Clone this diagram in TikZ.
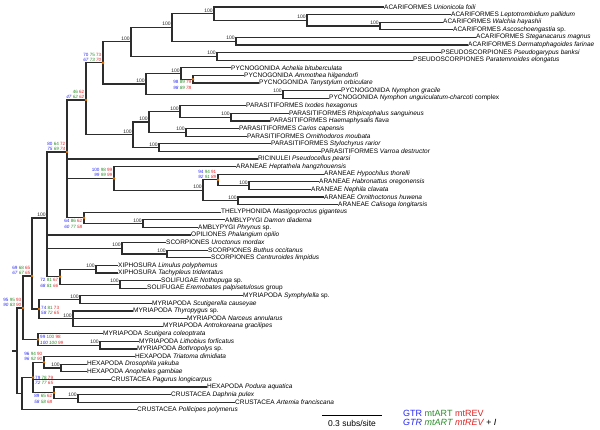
\documentclass[tikz,border=0pt]{standalone}
\usepackage{fontspec}
\setmainfont{Liberation Sans}
\definecolor{gtr}{RGB}{40,40,245}
\definecolor{art}{RGB}{40,140,40}
\definecolor{rev}{RGB}{225,35,35}
\definecolor{nodeor}{RGB}{225,110,0}
\definecolor{brc}{RGB}{45,45,45}
\newcommand{\svl}[6]{{\color{gtr}#1} {\color{art}#2} {\color{rev}#3}\\{\itshape{\color{gtr}#4} {\color{art}#5} {\color{rev}#6}}}
\tikzset{
  br/.style={draw=brc, line width=1.2pt, line cap=rect},
  leaf/.style={anchor=west, inner sep=1pt, font=\fontsize{6.5}{7}\selectfont},
  bs/.style={anchor=south east, inner sep=0pt, font=\fontsize{5}{5}\selectfont, text=black!85},
  sv/.style={inner sep=0pt, font=\fontsize{4.6}{5.2}\selectfont},
  dotn/.style={circle, fill=nodeor, inner sep=0pt, minimum size=2.8pt}
}
\begin{document}
\begin{tikzpicture}[x=1pt,y=-1pt]
\useasboundingbox (0,0) rectangle (600,430);
% internal nodes
\coordinate (root0) at (13,351);
\coordinate (root) at (17,351);
\coordinate (A) at (23,308);
\coordinate (KK) at (32,276);
\coordinate (HH) at (47,218);
\coordinate (G) at (67,152);
\coordinate (W) at (86,100);
\coordinate (R) at (103,62.9);
\coordinate (P1) at (131,41.9);
\coordinate (Q1) at (172,27.4);
\coordinate (Q2) at (214,13.7);
\coordinate (Q3) at (307,20.3);
\coordinate (Q4) at (380,26);
\coordinate (Q5) at (236,41.2);
\coordinate (Q6) at (217,56.4);
\coordinate (S) at (146,84);
\coordinate (T) at (181,73.5);
\coordinate (V) at (193,79.2);
\coordinate (U) at (283,94.4);
\coordinate (X) at (133,134.8);
\coordinate (Y) at (149,122);
\coordinate (Y1) at (180,111.5);
\coordinate (Y1a) at (231,117.2);
\coordinate (Y2) at (186,132.4);
\coordinate (Z) at (159,147.6);
\coordinate (AA) at (114,178.5);
\coordinate (CC) at (203,190.4);
\coordinate (DD) at (218,179.9);
\coordinate (FF) at (249,185.6);
\coordinate (EE) at (238,200.8);
\coordinate (BB) at (84,217.9);
\coordinate (GG) at (143,223.6);
\coordinate (JJ) at (122,248.3);
\coordinate (SS) at (167,254);
\coordinate (II) at (60,276.8);
\coordinate (XX) at (96,269.2);
\coordinate (SO) at (120,284.4);
\coordinate (F) at (39,309.1);
\coordinate (SY) at (80,299.6);
\coordinate (DP) at (73,318.6);
\coordinate (C) at (38,339.5);
\coordinate (D) at (100,345.2);
\coordinate (P) at (22,393.6);
\coordinate (LL) at (33,377.5);
\coordinate (MM) at (44,362.3);
\coordinate (PP) at (61,368);
\coordinate (NN) at (54,392.7);
\coordinate (OO) at (78,398.4);
% leaves
\node[leaf] (l1) at (383,7) {ACARIFORMES \textit{Unionicola foili}};
\node[leaf] (l2) at (450,14.6) {ACARIFORMES \textit{Leptotrombidium pallidum}};
\node[leaf] (l3) at (442,22.2) {ACARIFORMES \textit{Walchia hayashii}};
\node[leaf] (l4) at (452,29.8) {ACARIFORMES \textit{Ascoschoengastia} sp.};
\node[leaf] (l5) at (475,37.4) {ACARIFORMES \textit{Steganacarus magnus}};
\node[leaf] (l6) at (467,45) {ACARIFORMES \textit{Dermatophagoides farinae}};
\node[leaf] (l7) at (440,52.6) {PSEUDOSCORPIONES \textit{Pseudogarypus banksi}};
\node[leaf] (l8) at (412,60.2) {PSEUDOSCORPIONES \textit{Paratemnoides elongatus}};
\node[leaf] (l9) at (230,67.8) {PYCNOGONIDA \textit{Achelia bituberculata}};
\node[leaf] (l10) at (243,75.4) {PYCNOGONIDA \textit{Ammothea hilgendorfi}};
\node[leaf] (l11) at (258,83) {PYCNOGONIDA \textit{Tanystylum orbiculare}};
\node[leaf] (l12) at (340,90.6) {PYCNOGONIDA \textit{Nymphon gracile}};
\node[leaf] (l13) at (328,98.2) {PYCNOGONIDA \textit{Nymphon unguiculatum-charcoti} complex};
\node[leaf] (l14) at (245,105.8) {PARASITIFORMES \textit{Ixodes hexagonus}};
\node[leaf] (l15) at (288,113.4) {PARASITIFORMES \textit{Rhipicephalus sanguineus}};
\node[leaf] (l16) at (269,121) {PARASITIFORMES \textit{Haemaphysalis flava}};
\node[leaf] (l17) at (238,128.6) {PARASITIFORMES \textit{Carios capensis}};
\node[leaf] (l18) at (246,136.2) {PARASITIFORMES \textit{Ornithodoros moubata}};
\node[leaf] (l19) at (270,143.8) {PARASITIFORMES \textit{Stylochyrus rarior}};
\node[leaf] (l20) at (320,151.4) {PARASITIFORMES \textit{Varroa destructor}};
\node[leaf] (l21) at (257,159) {RICINULEI \textit{Pseudocellus pearsi}};
\node[leaf] (l22) at (235,166.6) {ARANEAE \textit{Heptathela hangzhouensis}};
\node[leaf] (l23) at (323,174.2) {ARANEAE \textit{Hypochilus thorelli}};
\node[leaf] (l24) at (318,181.8) {ARANEAE \textit{Habronattus oregonensis}};
\node[leaf] (l25) at (310,189.4) {ARANEAE \textit{Nephila clavata}};
\node[leaf] (l26) at (323,197) {ARANEAE \textit{Ornithoctonus huwena}};
\node[leaf] (l27) at (337,204.6) {ARANEAE \textit{Calisoga longitarsis}};
\node[leaf] (l28) at (220,212.2) {THELYPHONIDA \textit{Mastigoproctus giganteus}};
\node[leaf] (l29) at (224,219.8) {AMBLYPYGI \textit{Damon diadema}};
\node[leaf] (l30) at (197,227.4) {AMBLYPYGI \textit{Phrynus} sp.};
\node[leaf] (l31) at (190,235) {OPILIONES \textit{Phalangium opilio}};
\node[leaf] (l32) at (165,242.6) {SCORPIONES \textit{Uroctonus mordax}};
\node[leaf] (l33) at (207,250.2) {SCORPIONES \textit{Buthus occitanus}};
\node[leaf] (l34) at (210,257.8) {SCORPIONES \textit{Centruroides limpidus}};
\node[leaf] (l35) at (117,265.4) {XIPHOSURA \textit{Limulus polyphemus}};
\node[leaf] (l36) at (117,273) {XIPHOSURA \textit{Tachypleus tridentatus}};
\node[leaf] (l37) at (160,280.6) {SOLIFUGAE \textit{Nothopuga} sp.};
\node[leaf] (l38) at (146,288.2) {SOLIFUGAE \textit{Eremobates palpisetulosus} group};
\node[leaf] (l39) at (242,295.8) {MYRIAPODA \textit{Symphylella} sp.};
\node[leaf] (l40) at (151,303.4) {MYRIAPODA \textit{Scutigerella causeyae}};
\node[leaf] (l41) at (132,311) {MYRIAPODA \textit{Thyropygus} sp.};
\node[leaf] (l42) at (186,318.6) {MYRIAPODA \textit{Narceus annularus}};
\node[leaf] (l43) at (162,326.2) {MYRIAPODA \textit{Antrokoreana gracilipes}};
\node[leaf] (l44) at (102,333.8) {MYRIAPODA \textit{Scutigera coleoptrata}};
\node[leaf] (l45) at (138,341.4) {MYRIAPODA \textit{Lithobius forficatus}};
\node[leaf] (l46) at (136,349) {MYRIAPODA \textit{Bothropolys} sp.};
\node[leaf] (l47) at (134,356.6) {HEXAPODA \textit{Triatoma dimidiata}};
\node[leaf] (l48) at (86,364.2) {HEXAPODA \textit{Drosophila yakuba}};
\node[leaf] (l49) at (86,371.8) {HEXAPODA \textit{Anopheles gambiae}};
\node[leaf] (l50) at (110,379.4) {CRUSTACEA \textit{Pagurus longicarpus}};
\node[leaf] (l51) at (206,387) {HEXAPODA \textit{Podura aquatica}};
\node[leaf] (l52) at (170,394.6) {CRUSTACEA \textit{Daphnia pulex}};
\node[leaf] (l53) at (234,402.2) {CRUSTACEA \textit{Artemia franciscana}};
\node[leaf] (l54) at (136,409.8) {CRUSTACEA \textit{Pollicipes polymerus}};
% branches
\draw[br] (root0) -- (root);
\foreach \pa/\ch in {root/A, root/P, A/KK, A/C, KK/HH, KK/F,
  HH/G, HH/l31.west, HH/JJ, HH/II,
  G/W, G/l21.west, G/AA, G/BB,
  W/R, W/X, R/P1, R/S, P1/Q1, P1/Q6, Q1/Q2, Q1/Q5,
  Q2/l1.west, Q2/Q3, Q3/l2.west, Q3/Q4, Q4/l3.west, Q4/l4.west,
  Q5/l5.west, Q5/l6.west, Q6/l7.west, Q6/l8.west,
  S/T, S/U, T/l9.west, T/V, V/l10.west, V/l11.west, U/l12.west, U/l13.west,
  X/Y, X/Z, Y/Y1, Y/Y2, Y1/l14.west, Y1/Y1a, Y1a/l15.west, Y1a/l16.west,
  Y2/l17.west, Y2/l18.west, Z/l19.west, Z/l20.west,
  AA/l22.west, AA/CC, CC/DD, CC/EE, DD/l23.west, DD/FF, FF/l24.west, FF/l25.west,
  EE/l26.west, EE/l27.west,
  BB/l28.west, BB/GG, GG/l29.west, GG/l30.west,
  JJ/l32.west, JJ/SS, SS/l33.west, SS/l34.west,
  II/XX, II/SO, XX/l35.west, XX/l36.west, SO/l37.west, SO/l38.west,
  F/SY, F/DP, SY/l39.west, SY/l40.west, DP/l41.west, DP/l42.west, DP/l43.west,
  C/l44.west, C/D, D/l45.west, D/l46.west,
  P/LL, P/l54.west, LL/MM, LL/l50.west, LL/NN,
  MM/l47.west, MM/PP, PP/l48.west, PP/l49.west,
  NN/l51.west, NN/OO, OO/l52.west, OO/l53.west}
  \draw[br] (\pa) |- (\ch);
% bootstrap 100 labels
\foreach \n in {Q1,Q2,Q3,Q4,Q5,Q6,P1,S,T,U,X,Y,Y1,Y1a,Y2,Z,CC,FF,EE,GG,SS,JJ,XX,SO,SY,DP,D,PP,OO,HH}
  \node[bs] (b-\n) at ([xshift=-1.2pt,yshift=1.2pt]\n) {100};
% orange dots
\foreach \n in {R,V,W,G,AA,DD,BB,II,KK,A,F,C,MM,LL,NN}
  \node[dotn] (d-\n) at (\n) {};
% support values
\node[sv, anchor=south east, align=right] (s-R) at (101.5,61.5) {\svl{70}{75}{73}{67}{73}{70}};
\node[sv, anchor=north east, align=right] (s-V) at (191.5,80.5) {\svl{98}{89}{79}{98}{89}{78}};
\node[sv, anchor=south east, align=right] (s-W) at (84.5,99) {{\color{art}46} {\color{rev}62}\\{\itshape{\color{gtr}47} {\color{art}62} {\color{rev}62}}};
\node[sv, anchor=south east, align=right] (s-G) at (65.5,151) {\svl{80}{64}{72}{75}{69}{74}};
\node[sv, anchor=south east, align=right] (s-AA) at (112.5,177) {\svl{100}{98}{99}{99}{99}{99}};
\node[sv, anchor=south east, align=right] (s-DD) at (216.5,178.5) {\svl{94}{94}{91}{92}{91}{89}};
\node[sv, anchor=north east, align=right] (s-BB) at (82.5,219.5) {\svl{64}{86}{62}{60}{77}{58}};
\node[sv, anchor=north east, align=right] (s-II) at (58.5,278.5) {\svl{72}{81}{67}{68}{81}{66}};
\node[sv, anchor=south east, align=right] (s-KK) at (30.5,275) {\svl{69}{68}{65}{67}{67}{65}};
\node[sv, anchor=south east, align=right] (s-A) at (21.5,306.5) {\svl{95}{95}{93}{90}{83}{90}};
\node[sv, anchor=west, align=left] (s-F) at (41,310.5) {\svl{74}{81}{73}{58}{72}{65}};
\node[sv, anchor=west, align=left] (s-C) at (40,340) {\svl{99}{100}{98}{100}{100}{99}};
\node[sv, anchor=south east, align=right] (s-MM) at (42.5,361) {\svl{96}{94}{90}{96}{92}{90}};
\node[sv, anchor=north west, align=left] (s-LL) at (35,376) {\svl{79}{78}{79}{72}{77}{65}};
\node[sv, anchor=north east, align=right] (s-NN) at (52.5,394.5) {\svl{89}{65}{62}{58}{58}{68}};
% scale bar
\coordinate (sb1) at (322,415);
\coordinate (sb2) at (382,415);
\draw[line width=1pt, black] (sb1) -- (sb2);
\node[font=\fontsize{8.5}{9}\selectfont, inner sep=0pt] (sbt) at (352,423) {0.3 subs/site};
% legend
\node[anchor=west, inner sep=0pt, font=\fontsize{9}{10}\selectfont] (lg1) at (403,413.5) {{\color{gtr}GTR} {\color{art}mtART} {\color{rev}mtREV}};
\node[anchor=west, inner sep=0pt, font=\fontsize{9}{10}\selectfont\itshape] (lg2) at (403,422.5) {{\color{gtr}GTR} {\color{art}mtART} {\color{rev}mtREV} + I};
\end{tikzpicture}
\end{document}
